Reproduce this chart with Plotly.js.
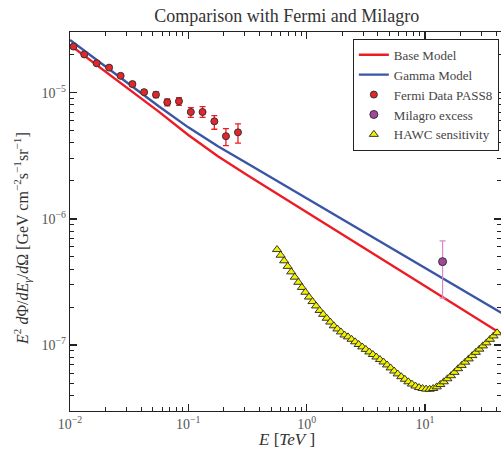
<!DOCTYPE html>
<html>
<head>
<meta charset="utf-8">
<script src="https://cdn.plot.ly/plotly-3.0.1.min.js"></script>
<style>html,body{margin:0;padding:0;background:#fff;}#chart{width:501px;height:455px;}</style>
</head>
<body>
<div id="chart"></div>
<script>
// Model curves (E in TeV, E^2 dPhi/dE/dOmega in GeV cm^-2 s^-1 sr^-1)
const modelE = [0.01, 0.01778, 0.03162, 0.05623, 0.1, 0.1778, 0.3162, 0.5623, 1, 1.778, 3.162, 5.623, 10, 17.78, 31.62, 50.12];
const baseModel = [2.39e-5, 1.59e-5, 1.06e-5, 7.08e-6, 4.62e-6, 3.13e-6, 2.22e-6, 1.58e-6, 1.13e-6, 8.07e-7, 5.77e-7, 4.11e-7, 2.94e-7, 2.09e-7, 1.50e-7, 1.14e-7];
const gammaModel = [2.62e-5, 1.75e-5, 1.16e-5, 7.80e-6, 5.31e-6, 3.76e-6, 2.75e-6, 2.00e-6, 1.46e-6, 1.06e-6, 7.73e-7, 5.62e-7, 4.09e-7, 2.98e-7, 2.17e-7, 1.68e-7];

// Fermi PASS8 data
const fermiE = [0.0107, 0.0132, 0.0168, 0.0214, 0.0268, 0.0337, 0.0423, 0.0533, 0.0664, 0.0834, 0.105, 0.132, 0.166, 0.208, 0.263];
const fermiY = [2.32e-5, 2.01e-5, 1.71e-5, 1.58e-5, 1.36e-5, 1.17e-5, 1.01e-5, 9.64e-6, 8.39e-6, 8.55e-6, 7.03e-6, 7.03e-6, 5.93e-6, 4.52e-6, 4.85e-6];
const fermiErrUp = [0.05e-5, 0.04e-5, 0.04e-5, 0.04e-5, 0.04e-5, 0.04e-5, 0.04e-5, 0.5e-6, 0.52e-6, 0.57e-6, 0.57e-6, 0.71e-6, 0.65e-6, 0.67e-6, 0.80e-6];
const fermiErrDown = [0.05e-5, 0.04e-5, 0.04e-5, 0.04e-5, 0.04e-5, 0.04e-5, 0.04e-5, 0.5e-6, 0.54e-6, 0.61e-6, 0.65e-6, 0.65e-6, 0.80e-6, 0.72e-6, 0.86e-6];

// Milagro excess
const milagroE = [14.1];
const milagroY = [4.58e-7];
const milagroErrUp = [2.10e-7];
const milagroErrDown = [2.23e-7];

// HAWC sensitivity
const hawcE = [0.562, 0.603, 0.646, 0.692, 0.741, 0.794, 0.851, 0.912, 0.977, 1.047, 1.122, 1.202, 1.288, 1.380, 1.479, 1.585, 1.698, 1.820, 1.950, 2.089, 2.239, 2.399, 2.570, 2.754, 2.951, 3.162, 3.388, 3.631, 3.890, 4.169, 4.467, 4.786, 5.129, 5.495, 5.888, 6.310, 6.761, 7.244, 7.762, 8.318, 8.913, 9.550, 10.23, 10.96, 11.75, 12.59, 13.49, 14.45, 15.49, 16.60, 17.78, 19.05, 20.42, 21.88, 23.44, 25.12, 26.92, 28.84, 30.90, 33.11, 35.48, 38.02, 40.74];
const hawcY = [5.71e-7, 5.15e-7, 4.65e-7, 4.20e-7, 3.80e-7, 3.45e-7, 3.14e-7, 2.86e-7, 2.62e-7, 2.40e-7, 2.21e-7, 2.04e-7, 1.88e-7, 1.75e-7, 1.63e-7, 1.52e-7, 1.42e-7, 1.34e-7, 1.27e-7, 1.20e-7, 1.16e-7, 1.11e-7, 1.06e-7, 1.01e-7, 9.66e-8, 9.23e-8, 8.81e-8, 8.41e-8, 8.03e-8, 7.67e-8, 7.33e-8, 6.95e-8, 6.58e-8, 6.22e-8, 5.90e-8, 5.61e-8, 5.35e-8, 5.11e-8, 4.90e-8, 4.73e-8, 4.60e-8, 4.52e-8, 4.47e-8, 4.46e-8, 4.52e-8, 4.66e-8, 4.86e-8, 5.11e-8, 5.40e-8, 5.71e-8, 6.07e-8, 6.49e-8, 6.89e-8, 7.31e-8, 7.76e-8, 8.24e-8, 8.75e-8, 9.27e-8, 9.84e-8, 1.04e-7, 1.11e-7, 1.18e-7, 1.25e-7];

// Axis ticks
const xTickVals = [0.01, 0.1, 1, 10];
const xTickText = ['10<sup>−2</sup>', '10<sup>−1</sup>', '10<sup>0</sup>', '10<sup>1</sup>'];
const yTickVals = [1e-7, 1e-6, 1e-5];
const yTickText = ['10<sup>−7</sup>', '10<sup>−6</sup>', '10<sup>−5</sup>'];

const serif = 'Liberation Serif, DejaVu Serif, serif';

const traces = [
  {x: modelE, y: baseModel, mode: 'lines', name: 'Base Model',
   line: {color: '#ec1c24', width: 2.4}},
  {x: modelE, y: gammaModel, mode: 'lines', name: 'Gamma Model',
   line: {color: '#3a55a5', width: 2.4}},
  {x: fermiE, y: fermiY, mode: 'markers', name: 'Fermi Data PASS8',
   marker: {color: '#e3262b', size: 7, line: {color: '#333', width: 1}},
   error_y: {type: 'data', symmetric: false, array: fermiErrUp, arrayminus: fermiErrDown,
             color: '#ec1c24', thickness: 1.3, width: 3}},
  {x: milagroE, y: milagroY, mode: 'markers', name: 'Milagro excess',
   marker: {color: '#a3479a', size: 8, line: {color: '#333', width: 1}},
   error_y: {type: 'data', symmetric: false, array: milagroErrUp, arrayminus: milagroErrDown,
             color: '#d68ac8', thickness: 1.2, width: 3}},
  {x: hawcE, y: hawcY, mode: 'markers', name: 'HAWC sensitivity',
   marker: {symbol: 'triangle-up', color: '#f2f200', size: 8, line: {color: '#222', width: 0.9}}}
];

const axisCommon = {
  type: 'log', showgrid: false, zeroline: false,
  showline: true, linecolor: '#222', linewidth: 1.3, mirror: 'allticks',
  ticks: 'inside', ticklen: 7, tickwidth: 1.3, tickcolor: '#222',
  tickfont: {family: serif, size: 14, color: '#555'},
  minor: {ticks: 'inside', ticklen: 4, tickwidth: 1, tickcolor: '#222', dtick: 'D1', showgrid: false}
};

const layout = {
  width: 501, height: 455,
  margin: {l: 70, r: 0, t: 32, b: 44},
  paper_bgcolor: '#fff', plot_bgcolor: '#fff',
  showlegend: true,
  title: {text: 'Comparison with Fermi and Milagro', font: {family: serif, size: 18, color: '#333'},
          xref: 'paper', x: 0.503, xanchor: 'center', yref: 'container', y: 0.965, yanchor: 'middle'},
  xaxis: Object.assign({}, axisCommon, {
    range: [-2, 1.643], tickmode: 'array', tickvals: xTickVals, ticktext: xTickText
  }),
  yaxis: Object.assign({}, axisCommon, {
    range: [-7.523, -4.519], tickmode: 'array', tickvals: yTickVals, ticktext: yTickText
  }),
  annotations: [
    {text: '<i>E</i> [<i>TeV</i> ]', xref: 'paper', yref: 'paper', x: 0.503, y: -0.0765,
     xanchor: 'center', yanchor: 'middle', showarrow: false,
     font: {family: serif, size: 17, color: '#333'}},
    {text: '<i>E</i><sup>2</sup> <i>d</i>Φ/<i>dE</i><sub><i>γ</i></sub>/<i>d</i>Ω [GeV cm<sup>−2</sup>s<sup>−1</sup>sr<sup>−1</sup>]',
     xref: 'paper', yref: 'paper', x: -0.1114, y: 0.4565, textangle: -90,
     xanchor: 'center', yanchor: 'middle', showarrow: false,
     font: {family: serif, size: 16, color: '#333'}}
  ],
  legend: {x: 0.995, xanchor: 'right', y: 0.982, yanchor: 'top',
           bgcolor: '#fff', bordercolor: '#222', borderwidth: 1,
           font: {family: serif, size: 13, color: '#444'},
           tracegroupgap: 0, itemwidth: 30}
};

Plotly.newPlot('chart', traces, layout, {displayModeBar: false, staticPlot: true});
</script>
</body>
</html>
